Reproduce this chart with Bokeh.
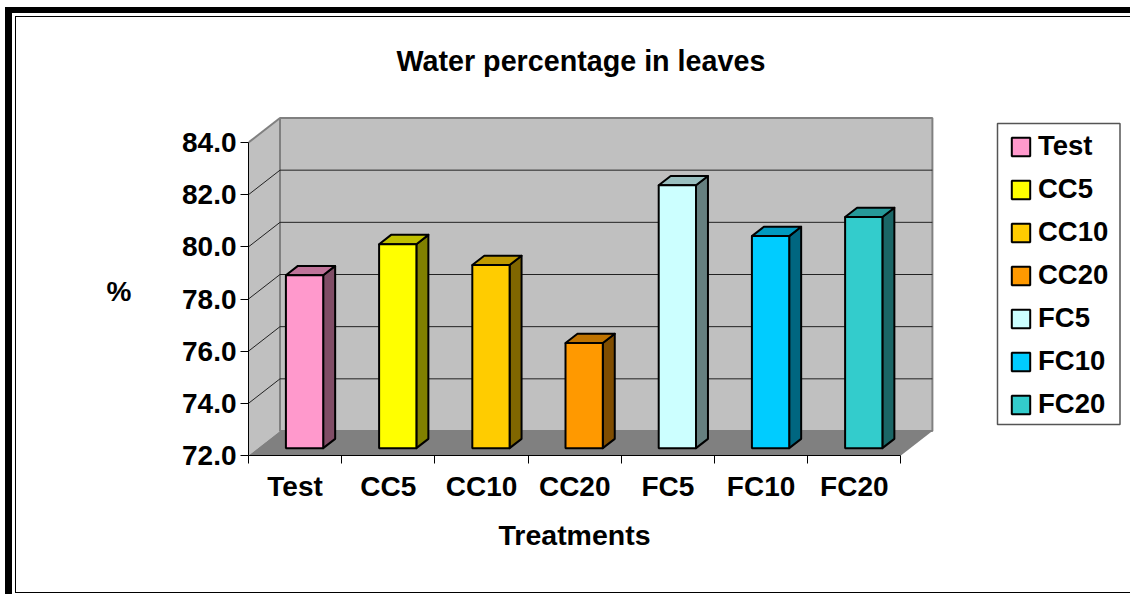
from bokeh.plotting import figure
from bokeh.models import (Range1d, FixedTicker, NumeralTickFormatter, Legend, LegendItem,
                          LinearAxis, Title, BoxAnnotation, InlineStyleSheet)
from bokeh.embed import file_html
from bokeh.resources import INLINE

categories = ["Test", "CC5", "CC10", "CC20", "FC5", "FC10", "FC20"]
values = [78.63, 79.82, 79.02, 76.03, 82.08, 80.13, 80.86]
front_colors = ["#FF99CC", "#FFFF00", "#FFCC00", "#FF9900", "#CCFFFF", "#00CCFF", "#33CCCC"]
top_colors = ["#BF7399", "#BFBF00", "#BF9900", "#BF7300", "#99BFBF", "#0099BF", "#269999"]
side_colors = ["#804D66", "#808000", "#806600", "#804D00", "#668080", "#006680", "#1A6666"]
y_ticks = [72, 74, 76, 78, 80, 82, 84]
y_min, y_max = 72, 84

W, H = 1130, 594
LEFT, BOTTOM, TOP = 248, 139, 80
PX_PER_CAT = 93.2
PX_PER_VAL = 313 / 12

# oblique depth of the chart box, expressed in data units
DX = 31.5 / PX_PER_CAT
DY = 24.5 / PX_PER_VAL
BAR_W = 0.40
Z0, Z1 = 0.30, 0.68   # bar's front and back position in the depth of the box

# picture frame round the whole chart (double line of the slide)
frame_css = InlineStyleSheet(css="""
:host::after { content:""; position:absolute; left:5px; top:7px; width:1125px; height:587px;
  box-sizing:border-box; border-left:7.5px solid #000; border-top:6.5px solid #000;
  pointer-events:none; z-index:10; }
:host::before { content:""; position:absolute; left:15px; top:15.5px; width:1115px; height:577px;
  box-sizing:border-box; border-left:1.5px solid #000; border-top:1.5px solid #000;
  border-bottom:1.5px solid #000; pointer-events:none; z-index:10; }
""")

p = figure(width=W, height=H, output_backend="svg", toolbar_location=None,
           x_range=Range1d(0, (W - LEFT) / PX_PER_CAT),
           y_range=Range1d(y_min, y_min + (H - BOTTOM - TOP) / PX_PER_VAL),
           min_border_left=LEFT, min_border_bottom=BOTTOM, min_border_top=TOP, min_border_right=0,
           background_fill_color="white", border_fill_color="white", outline_line_color=None)
p.stylesheets = [frame_css]
p.grid.visible = False

n = len(categories)
FONT = "Liberation Sans"

# title
p.title.text = "Water percentage in leaves"
p.title.text_font = FONT
p.title.text_font_size = "28.7px"
p.title.text_font_style = "bold"
p.title.text_color = "black"
p.title.align = "left"
p.title.offset = 148
p.title.standoff = 8

# walls and floor
p.patch([0, DX, DX, 0], [y_min, y_min + DY, y_max + DY, y_max], fill_color="#C0C0C0", line_color=None)
p.patch([DX, n + DX, n + DX, DX], [y_min + DY, y_min + DY, y_max + DY, y_max + DY],
        fill_color="#C0C0C0", line_color="#808080", line_width=2)
p.line([0, DX], [y_max, y_max + DY], line_color="#808080", line_width=2)
p.patch([0, n, n + DX, DX], [y_min, y_min, y_min + DY, y_min + DY], fill_color="#808080", line_color=None)

# gridlines on side wall and back wall
inner = [t for t in y_ticks if y_min < t < y_max]
p.multi_line([[0, DX, n + DX] for _ in inner], [[t, t + DY, t + DY] for t in inner],
             line_color="#222222", line_width=1)

# bars
items = []
for i, (c, v) in enumerate(zip(categories, values)):
    xl = i + 0.5 - BAR_W / 2 + Z0 * DX
    xr = xl + BAR_W
    y0 = y_min + Z0 * DY
    y1 = v + Z0 * DY
    ddx = (Z1 - Z0) * DX
    ddy = (Z1 - Z0) * DY
    p.patch([xr, xr + ddx, xr + ddx, xr], [y0, y0 + ddy, y1 + ddy, y1],
            fill_color=side_colors[i], line_color="black", line_width=2, line_join="round")
    p.patch([xl, xl + ddx, xr + ddx, xr], [y1, y1 + ddy, y1 + ddy, y1],
            fill_color=top_colors[i], line_color="black", line_width=2, line_join="round")
    r = p.quad(left=xl, right=xr, bottom=y0, top=y1,
               fill_color=front_colors[i], line_color="black", line_width=2)
    items.append(LegendItem(label=c, renderers=[r]))

# axes
ya = p.yaxis[0]
ya.bounds = (y_min, y_max)
ya.ticker = FixedTicker(ticks=y_ticks)
ya.formatter = NumeralTickFormatter(format="0.0")
ya.major_tick_in = 0
ya.major_tick_out = 8
ya.minor_tick_line_color = None
ya.major_tick_line_color = "black"
ya.axis_line_color = "black"
ya.major_label_standoff = 4
ya.major_label_text_font = FONT
ya.major_label_text_font_size = "28px"
ya.major_label_text_font_style = "bold"
ya.major_label_text_color = "black"

# the horizontal "%" beside the axis, level with about 78.3 on the scale
pct_at = 78.29
pct = LinearAxis(ticker=FixedTicker(ticks=[pct_at]), major_label_overrides={pct_at: "%"},
                 axis_line_color=None, major_tick_line_color=None, minor_tick_line_color=None,
                 major_tick_in=0, major_tick_out=0, major_label_standoff=48,
                 major_label_text_font=FONT, major_label_text_font_size="28px",
                 major_label_text_font_style="bold", major_label_text_color="black")
p.add_layout(pct, "left")

xa = p.xaxis[0]
xa.bounds = (0, n)
centers = [i + 0.5 for i in range(n)]
xa.ticker = FixedTicker(ticks=centers, minor_ticks=list(range(n + 1)))
xa.major_label_overrides = {c: l for c, l in zip(centers, categories)}
xa.major_tick_line_color = None
xa.major_tick_in = 0
xa.major_tick_out = 0
xa.minor_tick_in = 0
xa.minor_tick_out = 8
xa.minor_tick_line_color = "black"
xa.axis_line_color = "black"
xa.major_label_standoff = 7
xa.major_label_text_font = FONT
xa.major_label_text_font_size = "28px"
xa.major_label_text_font_style = "bold"
xa.major_label_text_color = "black"

p.add_layout(Title(text="Treatments", align="left", offset=250, standoff=24,
                   text_font=FONT, text_font_size="28.5px", text_font_style="bold",
                   text_color="black"), "below")

p.add_layout(BoxAnnotation(left=997, top=123, right=1119.5, bottom=424, left_units="canvas", right_units="canvas",
                           top_units="canvas", bottom_units="canvas", fill_color="white", fill_alpha=1,
                           line_color="#555555", line_alpha=1, line_width=1.5, level="glyph"))
legend = Legend(items=items, location=(761, 35), orientation="vertical",
                glyph_width=23, glyph_height=23, label_standoff=6, spacing=11,
                padding=12, margin=0,
                label_text_font=FONT, label_text_font_size="27.5px", label_text_font_style="bold",
                label_text_color="black", border_line_color=None,
                background_fill_alpha=0)
p.add_layout(legend, "center")

open("out.html", "w").write(file_html(p, INLINE))
